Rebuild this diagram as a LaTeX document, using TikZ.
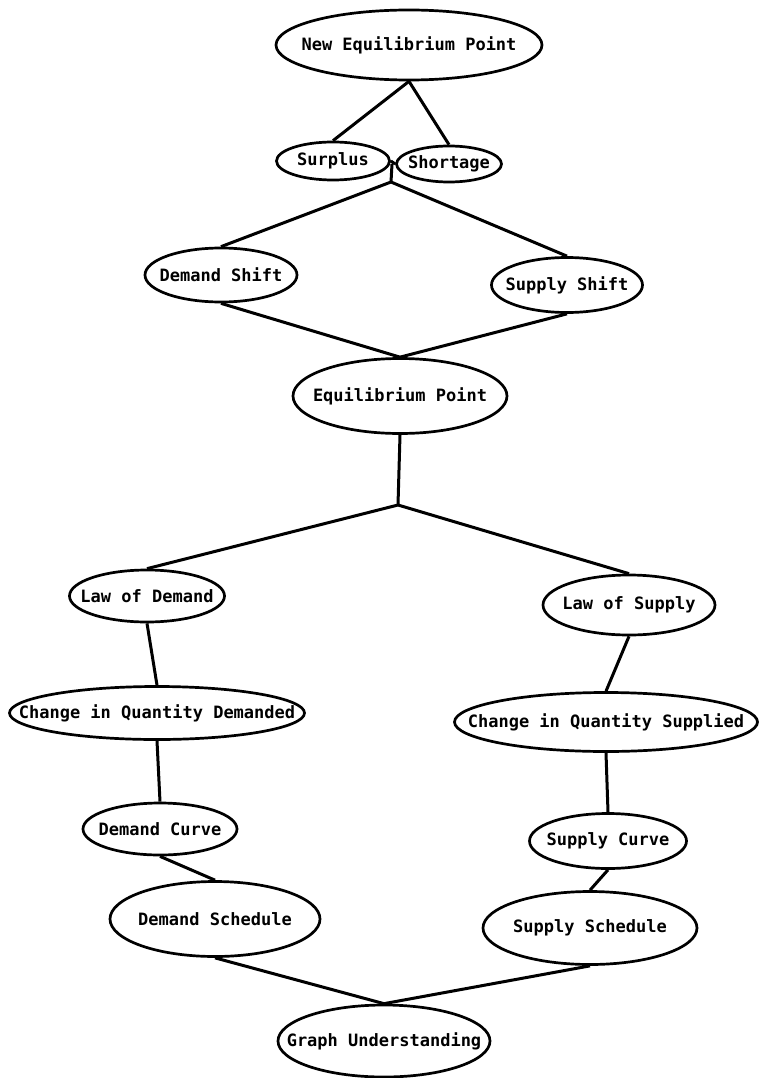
\documentclass[tikz,border=0pt]{standalone}
\usepackage{fontspec}
\setmonofont{DejaVu Sans Mono}
\usetikzlibrary{shapes.geometric}
\newcommand{\nodetext}[1]{\makebox[0pt]{#1}}
\begin{document}
\begin{tikzpicture}[x=1pt,y=-1pt]
        \tikzstyle{concept} = [ellipse, draw, line width=2.7pt, inner sep=0pt,
                               font=\ttfamily\bfseries\fontsize{17}{20}\selectfont]
        \tikzstyle{link} = [line width=3pt]
        \useasboundingbox (0,0) rectangle (759,1078);

        \node[concept, minimum width=266pt, minimum height=70pt] (nep) at (409,45) {\nodetext{New Equilibrium Point}};
        \node[concept, minimum width=113pt, minimum height=38pt] (sur) at (333,161) {\nodetext{Surplus}};
        \node[concept, minimum width=105pt, minimum height=36pt] (sho) at (449,164) {\nodetext{Shortage}};
        \node[concept, minimum width=152pt, minimum height=54pt] (dsh) at (221,275) {\nodetext{Demand Shift}};
        \node[concept, minimum width=151pt, minimum height=55pt] (ssh) at (567,285) {\nodetext{Supply Shift}};
        \node[concept, minimum width=214pt, minimum height=75pt] (ep) at (400,396) {\nodetext{Equilibrium Point}};
        \node[concept, minimum width=155pt, minimum height=52pt] (lod) at (147,596) {\nodetext{Law of Demand}};
        \node[concept, minimum width=172pt, minimum height=60pt] (los) at (629,605) {\nodetext{Law of Supply}};
        \node[concept, minimum width=295pt, minimum height=53pt] (cqd) at (157,713) {\nodetext{Change in Quantity Demanded}};
        \node[concept, minimum width=303pt, minimum height=59pt] (cqs) at (606,722) {\nodetext{Change in Quantity Supplied}};
        \node[concept, minimum width=154pt, minimum height=52pt] (dc) at (160,829) {\nodetext{Demand Curve}};
        \node[concept, minimum width=157pt, minimum height=55pt] (sc) at (608,841) {\nodetext{Supply Curve}};
        \node[concept, minimum width=210pt, minimum height=75pt] (dsc) at (215,919) {\nodetext{Demand Schedule}};
        \node[concept, minimum width=214pt, minimum height=73pt] (ssc) at (590,928) {\nodetext{Supply Schedule}};
        \node[concept, minimum width=212pt, minimum height=72pt] (gu) at (384,1041) {\nodetext{Graph Understanding}};

        \coordinate (mid) at (392,164);
        \coordinate (j1) at (391,182);
        \coordinate (j2) at (398,505);

        \foreach \from/\to in {nep/sur, nep/sho, dsh/ep, ssh/ep, lod/cqd, los/cqs,
                               cqd/dc, cqs/sc, dc/dsc, sc/ssc, dsc/gu, ssc/gu}
            \draw[link] (\from.south) -- (\to.north);

        \draw[link] (sur.east) -- (sho.west);
        \draw[link] (mid) -- (j1);
        \draw[link] (ep.south) -- (j2);
        \foreach \from/\to in {j1/dsh, j1/ssh, j2/lod, j2/los}
            \draw[link] (\from) -- (\to.north);
      \end{tikzpicture}
\end{document}
